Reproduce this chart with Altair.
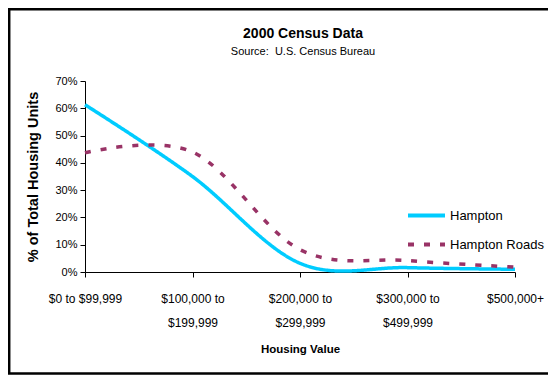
import altair as alt
import pandas as pd

categories = ["$0 to $99,999", "$100,000 to\n$199,999", "$200,000 to\n$299,999",
              "$300,000 to\n$499,999", "$500,000+"]
hampton = [61.3, 35.0, 3.2, 1.6, 1.0]
hampton_roads = [43.7, 44.0, 8.2, 4.2, 1.8]
series_names = ["Hampton", "Hampton Roads"]
y_ticks = [0, 10, 20, 30, 40, 50, 60, 70]
title_text = "2000 Census Data"
subtitle_text = "Source:\u00a0 U.S. Census Bureau"

rows = []
for name, vals in zip(series_names, [hampton, hampton_roads]):
    for c, v in zip(categories, vals):
        rows.append({"category": c, "value": v, "series": name})
df = pd.DataFrame(rows)

FONT = "Liberation Sans"
W, H = 430, 191
PAD = {"left": 77, "top": 73, "right": 33, "bottom": 103}

lines = alt.Chart(df).mark_line(interpolate="cardinal", strokeWidth=3.5).encode(
    x=alt.X("category:N", sort=categories,
            scale=alt.Scale(type="point", padding=0),
            axis=alt.Axis(title="Housing Value", labelAngle=0,
                          labelExpr="split(datum.label, '\\n')",
                          labelLineHeight=24, labelFontSize=12,
                          labelPadding=16, tickSize=5, domainColor="black",
                          tickColor="black", labelColor="black",
                          titleFontSize=11.5, titleFontWeight="bold",
                          titleColor="black", titlePadding=15)),
    y=alt.Y("value:Q", scale=alt.Scale(domain=[0, 70]),
            axis=alt.Axis(title="% of Total Housing Units", values=y_ticks,
                          labelExpr="datum.value + '%'", grid=False,
                          tickSize=5, domainColor="black", tickColor="black",
                          labelColor="black", labelFontSize=11, labelPadding=3,
                          titleFontSize=14.5, titleFontWeight="bold",
                          titleColor="black", titleX=-52, titleY=95.5,
                          titleAngle=-90, titleAlign="center",
                          titleBaseline="middle")),
    color=alt.Color("series:N", sort=series_names,
                    scale=alt.Scale(domain=series_names, range=["#00CCFF", "#993366"]),
                    legend=alt.Legend(title=None, orient="none", legendX=321,
                                      legendY=114, symbolType="stroke",
                                      symbolSize=1369, symbolStrokeWidth=4,
                                      labelFontSize=13, labelColor="black",
                                      labelOffset=3, rowPadding=-20)),
    strokeDash=alt.StrokeDash("series:N", sort=series_names,
                              scale=alt.Scale(domain=series_names,
                                              range=[[1, 0], [6, 10]]),
                              legend=None),
)

frame = alt.Chart(alt.Data(values=[{}])).mark_rect(
    filled=False, stroke="black", strokeWidth=2.5, fill=None
).encode(x=alt.value(-75.8), x2=alt.value(600), y=alt.value(-71.8), y2=alt.value(292.5))

title = alt.Chart(alt.Data(values=[{"t": title_text}])).mark_text(
    font=FONT, fontSize=14, fontWeight="bold", color="black", align="center",
    baseline="alphabetic"
).encode(text="t:N", x=alt.value(218), y=alt.value(-43))

subtitle = alt.Chart(alt.Data(values=[{"t": subtitle_text}])).mark_text(
    font=FONT, fontSize=11, color="black", align="center", baseline="alphabetic"
).encode(text="t:N", x=alt.value(218), y=alt.value(-26))

chart = alt.layer(frame, title, subtitle, lines).properties(
    width=W, height=H, padding=PAD,
    autosize=alt.AutoSizeParams(type="none"),
).configure(font=FONT, background="white").configure_view(stroke=None)

chart.save("out.html", embed_options={"renderer": "svg", "actions": False})
